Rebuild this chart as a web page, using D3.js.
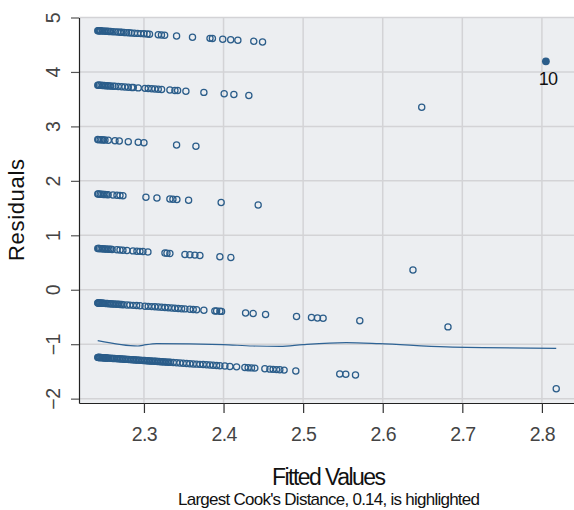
<!DOCTYPE html>
<html>
<head>
<meta charset="utf-8">
<script src="https://cdn.jsdelivr.net/npm/d3@7/dist/d3.min.js"></script>
<style>
  body { margin: 0; background: #fff; }
  svg text { font-family: "Liberation Sans", Arial, sans-serif; }
</style>
</head>
<body>
<svg id="chart" width="574" height="510"></svg>
<script>
// fitted values of the observations, grouped by observed count (residual = count - fitted)
var fitted7 = [2.242, 2.243, 2.244, 2.245, 2.246, 2.248, 2.250, 2.252, 2.254, 2.256, 2.258, 2.261, 2.264,
  2.267, 2.270, 2.272, 2.275, 2.278, 2.281, 2.284, 2.288, 2.292, 2.296, 2.300, 2.304, 2.307,
  2.318, 2.322, 2.326, 2.341, 2.361, 2.383, 2.386, 2.399, 2.409, 2.418, 2.438, 2.449];
var fitted6 = [2.242, 2.243, 2.244, 2.246, 2.248, 2.250, 2.252, 2.254, 2.256, 2.258, 2.261,
  2.2636, 2.2677, 2.272, 2.2761, 2.2803, 2.2846, 2.2866, 2.2928, 2.3013, 2.3054, 2.3097, 2.3138,
  2.318, 2.3222, 2.3326, 2.3389, 2.3423, 2.3527, 2.3753, 2.4008, 2.413, 2.4318, 2.649];
var fitted5 = [2.242, 2.243, 2.245, 2.247, 2.249, 2.251, 2.2552, 2.2636, 2.269, 2.2803, 2.2928,
  2.300, 2.341, 2.3653];
var fitted4 = [2.242, 2.243, 2.245, 2.247, 2.249, 2.251, 2.253, 2.255, 2.2611, 2.2661, 2.2699,
  2.2736, 2.3025, 2.3163, 2.3326, 2.3364, 2.3414, 2.3561, 2.397, 2.4435];
var fitted3 = [2.242, 2.243, 2.244, 2.246, 2.248, 2.250, 2.252, 2.254, 2.256, 2.258, 2.260,
  2.2661, 2.2699, 2.2736, 2.2787, 2.2862, 2.2912, 2.295, 2.2987, 2.305, 2.3264, 2.3289, 2.3326,
  2.3515, 2.3577, 2.364, 2.3703, 2.3954, 2.4092, 2.638];
var fitted2 = [2.242, 2.2425, 2.243, 2.244, 2.245, 2.246, 2.247, 2.248, 2.249, 2.250, 2.252, 2.254,
  2.256, 2.258, 2.260, 2.262, 2.264, 2.266, 2.268, 2.270, 2.272, 2.274, 2.2787, 2.2824, 2.2866,
  2.2908, 2.295, 2.3013, 2.3054, 2.3097, 2.3138, 2.318, 2.3222, 2.3264, 2.3305, 2.3348, 2.3389,
  2.3431, 2.3473, 2.3515, 2.3577, 2.3619, 2.3662, 2.3753, 2.3891, 2.3913, 2.3954, 2.3975, 2.4277,
  2.4372, 2.4528, 2.4917, 2.5105, 2.518, 2.5251, 2.5712, 2.682];
var fitted1 = [2.242, 2.2425, 2.243, 2.2435, 2.244, 2.245, 2.246, 2.247, 2.248, 2.249, 2.250, 2.251,
  2.252, 2.253, 2.254, 2.256, 2.258, 2.260, 2.261, 2.263, 2.265, 2.267, 2.269, 2.271, 2.273, 2.275,
  2.277, 2.279, 2.281, 2.283, 2.285, 2.287, 2.289, 2.291, 2.293, 2.295, 2.297, 2.299, 2.301, 2.303,
  2.305, 2.307, 2.309, 2.311, 2.313, 2.315, 2.317, 2.319, 2.321, 2.323, 2.325, 2.327, 2.329, 2.331,
  2.333, 2.3368, 2.341, 2.3452, 2.3493, 2.3536, 2.3577, 2.3619, 2.3662, 2.3703, 2.3744, 2.3787,
  2.3829, 2.387, 2.3913, 2.3954, 2.4017, 2.408, 2.4164, 2.4268, 2.4309, 2.4352, 2.4393, 2.4519,
  2.4582, 2.4623, 2.4666, 2.4707, 2.4761, 2.4908, 2.546, 2.5536, 2.5658, 2.818];
var counts = [7, 6, 5, 4, 3, 2, 1];
var fittedByCount = [fitted7, fitted6, fitted5, fitted4, fitted3, fitted2, fitted1];

// highlighted observation (largest Cook's distance)
var hiFitted = 2.805, hiCount = 7, hiLabel = "10";

// smoother through the residuals
var smoothX = [2.2419, 2.2925, 2.2985, 2.316, 2.399, 2.437, 2.471, 2.500, 2.554, 2.596, 2.680, 2.818];
var smoothY = [-0.934, -1.033, -1.020, -0.989, -1.007, -1.033, -1.039, -1.007, -0.971, -0.989, -1.051, -1.075];

var xTicks = [2.3, 2.4, 2.5, 2.6, 2.7, 2.8];
var yTicks = [-2, -1, 0, 1, 2, 3, 4, 5];
var xTitle = "Fitted Values";
var yTitle = "Residuals";
var subTitle = "Largest Cook's Distance, 0.14, is highlighted";

function draw() {
  var svg = d3.select("#chart");
  var pLeft = 79, pRight = 579, pTop = 17, pBottom = 403;
  var col = "#2b5d8a";

  var x = d3.scaleLinear().domain([2.2184, 2.8466]).range([pLeft, pRight]);
  var y = d3.scaleLinear().domain([-2.08, 5]).range([pBottom, pTop + 0.5]);

  // title above the plot, almost entirely outside the picture
  svg.append("text").attr("x", 10).attr("y", -4).attr("font-size", 20).attr("fill", "#222")
    .attr("textLength", 290).text("(glm: poisson family, log link, y ~ x)");

  svg.append("defs").append("clipPath").attr("id", "plotclip")
    .append("rect").attr("x", pLeft).attr("y", pTop).attr("width", pRight - pLeft).attr("height", pBottom - pTop);

  svg.append("rect").attr("x", pLeft).attr("y", pTop).attr("width", pRight - pLeft).attr("height", pBottom - pTop)
    .attr("fill", "#eceef1");

  var grid = svg.append("g");
  grid.selectAll(".hg").data(yTicks).enter().append("line")
    .attr("x1", pLeft).attr("x2", pRight)
    .attr("y1", function (d) { return y(d); }).attr("y2", function (d) { return y(d); })
    .attr("stroke", "#d3d3d6").attr("stroke-width", 1.5);
  grid.selectAll(".vg").data(xTicks).enter().append("line")
    .attr("y1", pTop).attr("y2", pBottom)
    .attr("x1", function (d) { return x(d); }).attr("x2", function (d) { return x(d); })
    .attr("stroke", "#d3d3d6").attr("stroke-width", 1.5);

  // axes
  var xAxis = d3.axisBottom(x).tickValues(xTicks).tickSize(10).tickSizeOuter(0).tickPadding(14)
    .tickFormat(d3.format(".1f"));
  var gx = svg.append("g").attr("transform", "translate(0," + pBottom + ")").call(xAxis);
  gx.select(".domain").attr("stroke", "#222").attr("stroke-width", 1.2);
  gx.selectAll(".tick line").attr("stroke", "#333").attr("stroke-width", 1.2);
  gx.selectAll(".tick text").attr("font-size", 19.5).attr("fill", "#444")
    .attr("letter-spacing", -0.6)
    .attr("font-family", "Liberation Sans, Arial, sans-serif");

  var yAxis = d3.axisLeft(y).tickValues(yTicks).tickSize(8).tickSizeOuter(0).tickFormat(d3.format("d"));
  var gy = svg.append("g").attr("transform", "translate(" + pLeft + ",0)").call(yAxis);
  gy.select(".domain").attr("stroke", "#222").attr("stroke-width", 1.2);
  gy.selectAll(".tick line").attr("stroke", "#555").attr("stroke-width", 1.2);
  gy.selectAll(".tick text").remove();
  gy.selectAll(".tick").append("text")
    .attr("transform", "translate(-19,0) rotate(-90)")
    .attr("text-anchor", "middle").attr("font-size", 19.5).attr("fill", "#444")
    .attr("letter-spacing", -0.6)
    .attr("font-family", "Liberation Sans, Arial, sans-serif")
    .text(function (d) { return d3.format("d")(d); });

  // points
  var plot = svg.append("g").attr("clip-path", "url(#plotclip)");
  counts.forEach(function (c, i) {
    plot.append("g").selectAll("circle")
      .data(fittedByCount[i])
      .enter().append("circle")
      .attr("cx", function (d) { return x(d); })
      .attr("cy", function (d) { return y(c - d); })
      .attr("r", 3.1)
      .attr("fill", "none")
      .attr("stroke", col)
      .attr("stroke-width", 1.25);
  });

  var line = d3.line()
    .x(function (d, i) { return x(smoothX[i]); })
    .y(function (d, i) { return y(smoothY[i]); })
    .curve(d3.curveMonotoneX);
  plot.append("path").datum(smoothY).attr("d", line)
    .attr("fill", "none").attr("stroke", "#2e6395").attr("stroke-width", 1.2);

  plot.append("circle").attr("cx", x(hiFitted)).attr("cy", y(hiCount - hiFitted)).attr("r", 3.9)
    .attr("fill", col);
  svg.append("text").attr("x", x(hiFitted) + 2).attr("y", y(hiCount - hiFitted) + 24)
    .attr("text-anchor", "middle").attr("font-size", 18).attr("fill", "#111")
    .attr("letter-spacing", -0.8).text(hiLabel);

  // titles
  svg.append("text").attr("x", 329).attr("y", 485).attr("text-anchor", "middle")
    .attr("font-size", 23).attr("fill", "#111").attr("textLength", 114).text(xTitle);
  svg.append("text").attr("x", 329).attr("y", 505).attr("text-anchor", "middle")
    .attr("font-size", 17).attr("fill", "#111").attr("textLength", 302).text(subTitle);
  svg.append("text").attr("transform", "translate(24,210) rotate(-90)").attr("text-anchor", "middle")
    .attr("font-size", 22).attr("fill", "#111").attr("textLength", 102).text(yTitle);
}

draw();
</script>
</body>
</html>
